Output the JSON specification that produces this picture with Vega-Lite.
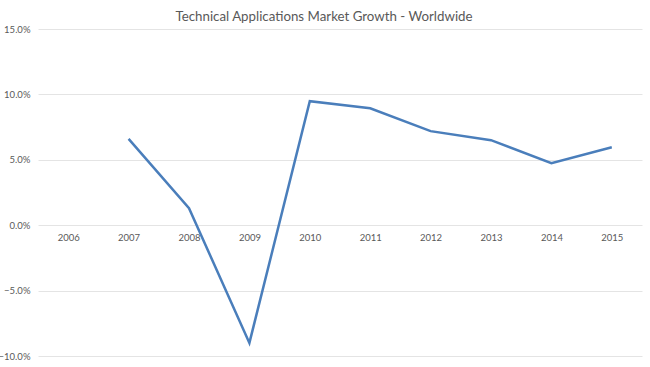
{
  "$schema": "https://vega.github.io/schema/vega-lite/v6.json",
  "autosize": {"type": "none"},
  "padding": {"left": 38, "top": 29, "right": 8, "bottom": 11},
  "width": 604,
  "height": 327,
  "background": "white",
  "title": {
    "text": "Technical Applications Market Growth - Worldwide",
    "font": "Lato",
    "fontSize": 13.3,
    "fontWeight": "normal",
    "color": "#595959",
    "anchor": "middle",
    "offset": 1,
    "dx": -16
  },
  "data": {
    "values": [
      {"year": "2007", "growth": 0.066},
      {"year": "2008", "growth": 0.013},
      {"year": "2009", "growth": -0.090},
      {"year": "2010", "growth": 0.0948},
      {"year": "2011", "growth": 0.0894},
      {"year": "2012", "growth": 0.0719},
      {"year": "2013", "growth": 0.065},
      {"year": "2014", "growth": 0.0474},
      {"year": "2015", "growth": 0.0596}
    ]
  },
  "mark": {"type": "line", "color": "#4A7EBB", "strokeWidth": 2.5},
  "encoding": {
    "x": {
      "field": "year",
      "type": "ordinal",
      "scale": {"domain": ["2006","2007","2008","2009","2010","2011","2012","2013","2014","2015"], "padding": 0.5},
      "axis": {
        "title": null,
        "labelAngle": 0,
        "domain": false,
        "ticks": false,
        "offset": -130,
        "labelPadding": 6,
        "labelFont": "Lato",
        "labelFontSize": 9.5,
        "labelColor": "#595959"
      }
    },
    "y": {
      "field": "growth",
      "type": "quantitative",
      "scale": {"domain": [-0.1, 0.15], "nice": false, "zero": false},
      "axis": {
        "title": null,
        "values": [-0.1, -0.05, 0, 0.05, 0.1, 0.15],
        "format": ".1%",
        "domain": false,
        "ticks": false,
        "labelPadding": 8,
        "labelFont": "Lato",
        "labelFontSize": 9.5,
        "labelColor": "#595959",
        "gridColor": "#e4e4e4",
        "gridWidth": 1
      }
    }
  },
  "config": {"view": {"stroke": null}}
}
